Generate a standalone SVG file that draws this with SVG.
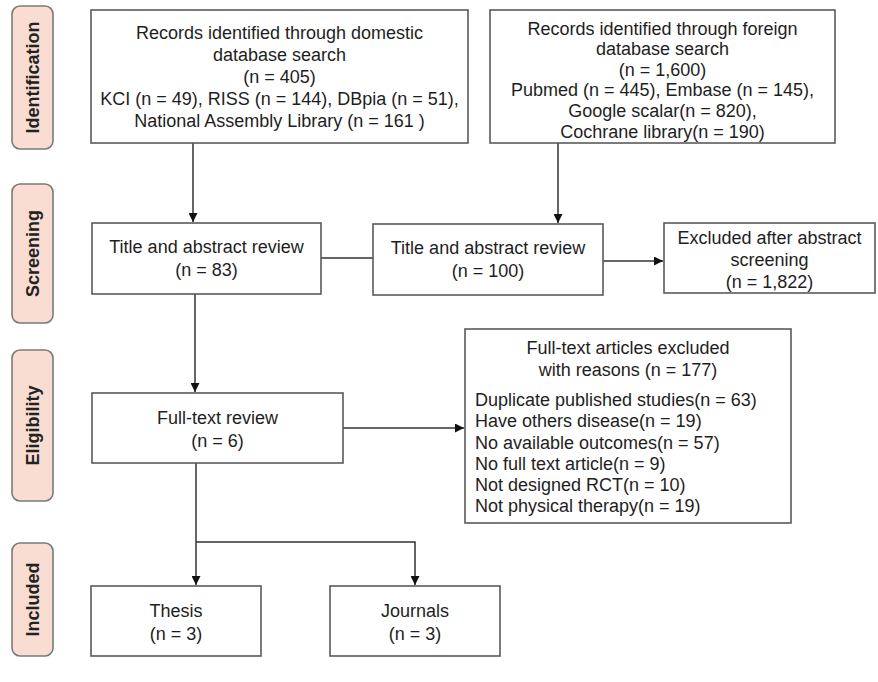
<svg xmlns="http://www.w3.org/2000/svg" width="878" height="682" viewBox="0 0 878 682">
<style>
.box{fill:#fff;stroke:#5a5a5a;stroke-width:1.6}
.pill{fill:#f9ddd2;stroke:#7a7a7a;stroke-width:1.6}
.t{font-family:"Liberation Sans",Arial,sans-serif;font-size:18px;fill:#1e1e1e}
.c{text-anchor:middle}
.lab{font-family:"Liberation Sans",Arial,sans-serif;font-size:18px;font-weight:bold;fill:#222;text-anchor:middle}
.ln{fill:none;stroke:#333;stroke-width:1.5}
</style>
<defs>
<marker id="ah" viewBox="0 0 10 10" refX="10" refY="5" markerWidth="9" markerHeight="9" markerUnits="userSpaceOnUse" orient="auto">
<path d="M0,0 L10,5 L0,10 z" fill="#111"/>
</marker>
</defs>
<rect width="878" height="682" fill="#fff"/>

<g id="stage-identification"><rect class="pill" x="12" y="6" width="41" height="143" rx="8"/><text class="lab" transform="translate(38.5,77.5) rotate(-90)">Identification</text></g>
<g id="stage-screening"><rect class="pill" x="12" y="184" width="41" height="139" rx="8"/><text class="lab" transform="translate(38.5,253.5) rotate(-90)">Screening</text></g>
<g id="stage-eligibility"><rect class="pill" x="12" y="350" width="41" height="151" rx="8"/><text class="lab" transform="translate(38.5,425.5) rotate(-90)">Eligibility</text></g>
<g id="stage-included"><rect class="pill" x="12" y="543" width="41" height="113" rx="8"/><text class="lab" transform="translate(38.5,599.5) rotate(-90)">Included</text></g>

<g id="connectors">
<line class="ln" x1="193" y1="143" x2="193" y2="222" marker-end="url(#ah)"/>
<line class="ln" x1="558" y1="143" x2="558" y2="223" marker-end="url(#ah)"/>
<line class="ln" x1="321" y1="258" x2="373" y2="258"/>
<line class="ln" x1="603" y1="261" x2="663" y2="261" marker-end="url(#ah)"/>
<line class="ln" x1="195" y1="294" x2="195" y2="392" marker-end="url(#ah)"/>
<line class="ln" x1="343" y1="428" x2="464" y2="428" marker-end="url(#ah)"/>
<line class="ln" x1="196" y1="463" x2="196" y2="585" marker-end="url(#ah)"/>
<polyline class="ln" points="196,542 415,542 415,585" marker-end="url(#ah)"/>
</g>

<g id="n-domestic"><rect class="box" x="91" y="10" width="377" height="133"/>
<text class="t c" x="279.5" y="39">Records identified through domestic</text>
<text class="t c" x="279.5" y="61">database search</text>
<text class="t c" x="279.5" y="83">(n = 405)</text>
<text class="t c" x="279.5" y="105">KCI (n = 49), RISS (n = 144), DBpia (n = 51),</text>
<text class="t c" x="279.5" y="127">National Assembly Library (n = 161 )</text></g>

<g id="n-foreign"><rect class="box" x="490" y="10" width="345" height="133"/>
<text class="t c" x="662.5" y="34.5">Records identified through foreign</text>
<text class="t c" x="662.5" y="55">database search</text>
<text class="t c" x="662.5" y="75.5">(n = 1,600)</text>
<text class="t c" x="662.5" y="96">Pubmed (n = 445), Embase (n = 145),</text>
<text class="t c" x="662.5" y="117">Google scalar(n = 820),</text>
<text class="t c" x="662.5" y="137.5">Cochrane library(n = 190)</text></g>

<g id="n-title1"><rect class="box" x="92" y="223" width="229" height="71"/>
<text class="t c" x="206.5" y="253">Title and abstract review</text>
<text class="t c" x="206.5" y="276">(n = 83)</text></g>

<g id="n-title2"><rect class="box" x="373" y="224" width="230" height="71"/>
<text class="t c" x="488" y="254">Title and abstract review</text>
<text class="t c" x="488" y="277">(n = 100)</text></g>

<g id="n-excluded-abstract"><rect class="box" x="664" y="223" width="211" height="70"/>
<text class="t c" x="769.5" y="244">Excluded after abstract</text>
<text class="t c" x="769.5" y="266">screening</text>
<text class="t c" x="769.5" y="288">(n = 1,822)</text></g>

<g id="n-fulltext"><rect class="box" x="92" y="393" width="251" height="70"/>
<text class="t c" x="217.5" y="424">Full-text review</text>
<text class="t c" x="217.5" y="447">(n = 6)</text></g>

<g id="n-excluded-fulltext"><rect class="box" x="465" y="329" width="326" height="194"/>
<text class="t c" x="628" y="354">Full-text articles excluded</text>
<text class="t c" x="628" y="376">with reasons (n = 177)</text>
<text class="t" x="475" y="406">Duplicate published studies(n = 63)</text>
<text class="t" x="475" y="427">Have others disease(n = 19)</text>
<text class="t" x="475" y="448.5">No available outcomes(n = 57)</text>
<text class="t" x="475" y="470">No full text article(n = 9)</text>
<text class="t" x="475" y="491">Not designed RCT(n = 10)</text>
<text class="t" x="475" y="512">Not physical therapy(n = 19)</text></g>

<g id="n-thesis"><rect class="box" x="91" y="586" width="170" height="70"/>
<text class="t c" x="176" y="616.5">Thesis</text>
<text class="t c" x="176" y="639.5">(n = 3)</text></g>

<g id="n-journals"><rect class="box" x="330" y="586" width="170" height="70"/>
<text class="t c" x="415" y="616.5">Journals</text>
<text class="t c" x="415" y="639.5">(n = 3)</text></g>
</svg>
